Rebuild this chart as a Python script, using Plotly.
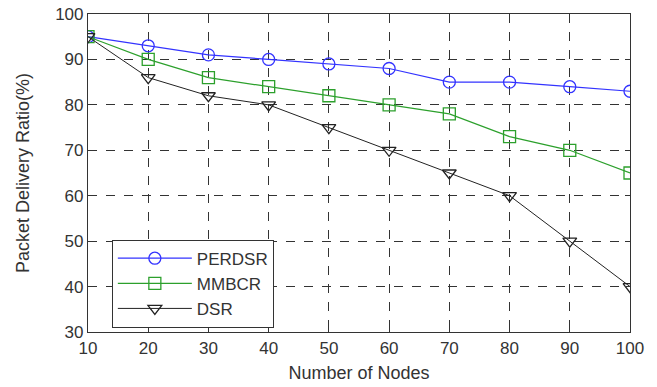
import plotly.graph_objects as go

nodes = [10, 20, 30, 40, 50, 60, 70, 80, 90, 100]
perdsr = [95, 93, 91, 90, 89, 88, 85, 85, 84, 83]
mmbcr = [95, 90, 86, 84, 82, 80, 78, 73, 70, 65]
dsr = [95, 86, 82, 80, 75, 70, 65, 60, 50, 40]
y_ticks = [30, 40, 50, 60, 70, 80, 90, 100]

FONT = "Liberation Sans, Arial, sans-serif"

fig = go.Figure()
fig.add_trace(go.Scatter(x=nodes, y=perdsr, name="PERDSR", mode="lines+markers",
                         line=dict(color="#3333ff", width=1.2),
                         marker=dict(symbol="circle-open", size=12, color="#3333ff", line=dict(width=1.3))))
fig.add_trace(go.Scatter(x=nodes, y=mmbcr, name="MMBCR", mode="lines+markers",
                         line=dict(color="#2ca02c", width=1.2),
                         marker=dict(symbol="square-open", size=12, color="#2ca02c", line=dict(width=1.3))))
fig.add_trace(go.Scatter(x=nodes, y=dsr, name="DSR", mode="lines+markers",
                         line=dict(color="#222222", width=1),
                         marker=dict(symbol="triangle-down-open", size=12, color="#222222", line=dict(width=1.3))))

axis_common = dict(showline=True, linecolor="#333", linewidth=1.2, mirror="ticks",
                   ticks="inside", ticklen=5, tickcolor="#333",
                   showgrid=True, gridcolor="#333", griddash="dash", gridwidth=1,
                   zeroline=False, ticklabeloverflow="allow",
                   tickfont=dict(family=FONT, size=17, color="#333"))

fig.update_layout(
    width=657, height=387,
    margin=dict(l=88, r=27, t=14, b=55, autoexpand=False),
    paper_bgcolor="white", plot_bgcolor="white",
    font=dict(family=FONT, size=18, color="#333"),
    xaxis=dict(range=[10, 100], tickvals=nodes,
               title=dict(text="Number of Nodes", standoff=9, font=dict(size=18)), **axis_common),
    yaxis=dict(range=[30, 100], tickvals=y_ticks,
               title=dict(text="Packet Delivery Ratio(%)", standoff=20, font=dict(size=18)), **axis_common),
    legend=dict(x=0.044, y=0.152, xanchor="left", yanchor="middle",
                bordercolor="#333", borderwidth=1, bgcolor="white", itemwidth=74,
                font=dict(family=FONT, size=17, color="#333"), tracegroupgap=0),
    showlegend=True,
)

# remove the default 8px page margin so the figure sits at the window's top-left
fig.write_html("out.html", config={"displayModeBar": False},
               post_script="document.body.style.margin='0';")
